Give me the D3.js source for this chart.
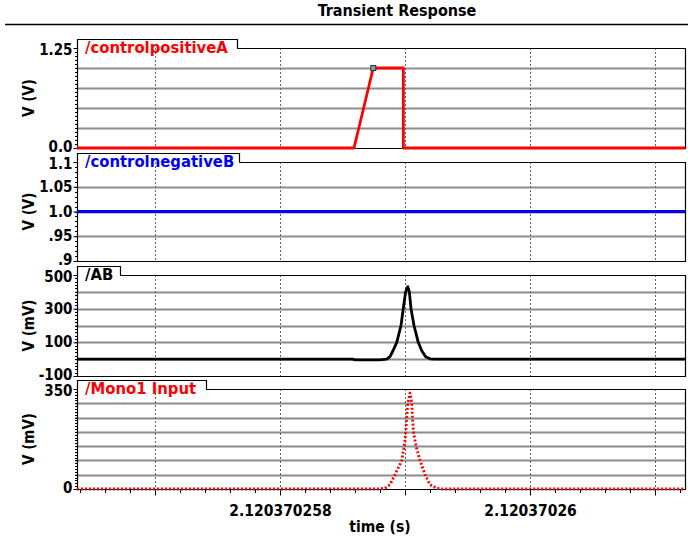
<!DOCTYPE html>
<html><head><meta charset="utf-8">
<script src="https://cdn.jsdelivr.net/npm/d3@7"></script>
<style>
body{margin:0;background:#fff;}
svg{display:block;font-family:"DejaVu Sans Condensed","DejaVu Sans",sans-serif;font-weight:bold;}
</style></head>
<body>
<svg id="chart" width="688" height="541"></svg>
<script>
// ---- data (time in ns offset from 2.120370250 s) ----
const xTickValues = [7, 8, 9, 10, 11];
const xTickLabels = ["", "2.120370258", "", "2.12037026", ""];
const xDomain = [6.376, 11.24];

const panelNames = ["/controlpositiveA", "/controlnegativeB", "/AB", "/Mono1 Input"];
const panelUnits = ["V (V)", "V (V)", "V (mV)", "V (mV)"];

const yDomainA = [0, 1.25];
const yTicksA = [0, 0.25, 0.5, 0.75, 1.0, 1.25];
const yLabelsA = ["0.0", "", "", "", "", "1.25"];
const timeA = [6.376, 8.592, 8.746, 8.987, 8.987, 11.24];
const valA  = [0, 0, 1.0, 1.0, 0, 0];
const markerA = [8.746, 1.0];

const yDomainB = [0.9, 1.1];
const yTicksB = [0.9, 0.95, 1.0, 1.05, 1.1];
const yLabelsB = [".9", ".95", "1.0", "1.05", "1.1"];
const timeB = [6.376, 11.24];
const valB  = [1.0, 1.0];

const yDomainAB = [-100, 500];
const yTicksAB = [-100, 0, 100, 200, 300, 400, 500];
const yLabelsAB = ["-100", "", "100", "", "300", "", "500"];
const timeAB = [6.376, 8.58, 8.6, 8.80, 8.854, 8.88, 8.904, 8.934, 8.968, 8.986, 9.005, 9.022, 9.035, 9.048, 9.072, 9.106, 9.134, 9.165, 9.2, 9.24, 11.24];
const valAB  = [0, 0, -4, -4, 0, 15, 50, 100, 200, 300, 400, 431, 400, 300, 200, 100, 50, 15, 2, 0, 0];

const yDomainM = [0, 350];
const yTicksM = [0, 50, 100, 150, 200, 250, 300, 350];
const yLabelsM = ["0", "", "", "", "", "", "", "350"];
const timeM = [6.376, 8.78, 8.84, 8.88, 8.92, 8.974, 8.994, 9.006, 9.014, 9.022, 9.04, 9.054, 9.06, 9.068, 9.088, 9.12, 9.16, 9.2, 9.254, 9.3, 11.24];
const valM  = [0, 0, 3, 15, 50, 100, 150, 200, 250, 300, 336, 300, 250, 200, 150, 100, 50, 15, 3, 0, 0];

// ---- layout ----
const svg = d3.select("#chart");
const left = 77, right = 685;
const FONT = "'DejaVu Sans Condensed','DejaVu Sans',sans-serif";
const x = d3.scaleLinear().domain(xDomain).range([left, right]);

const panels = [
  {name: panelNames[0], unit: panelUnits[0], dom: yDomainA, ticks: yTicksA, labels: yLabelsA, t: timeA, v: valA, color: "#ff0000", top: 48, bottom: 148, tabW: 160, dash: null},
  {name: panelNames[1], unit: panelUnits[1], dom: yDomainB, ticks: yTicksB, labels: yLabelsB, t: timeB, v: valB, color: "#0000ff", top: 162, bottom: 261, tabW: 162, dash: null},
  {name: panelNames[2], unit: panelUnits[2], dom: yDomainAB, ticks: yTicksAB, labels: yLabelsAB, t: timeAB, v: valAB, color: "#000000", top: 275, bottom: 376, tabW: 43, dash: null},
  {name: panelNames[3], unit: panelUnits[3], dom: yDomainM, ticks: yTicksM, labels: yLabelsM, t: timeM, v: valM, color: "#ff0000", top: 389, bottom: 489, tabW: 129, dash: "2,2"}
];

// title
svg.append("text").attr("x", 397).attr("y", 16).attr("text-anchor", "middle")
  .attr("font-size", 16).text("Transient Response");
svg.append("line").attr("x1", 5).attr("x2", 688).attr("y1", 24.5).attr("y2", 24.5)
  .attr("stroke", "#000").attr("stroke-width", 1.5);

panels.forEach((p, i) => {
  const y = d3.scaleLinear().domain(p.dom).range([p.bottom, p.top]);
  const g = svg.append("g");

  // horizontal grid
  g.selectAll(".hg").data(p.ticks.slice(1, -1)).join("line")
    .attr("x1", left).attr("x2", right)
    .attr("y1", d => Math.round(y(d)) + 0.5).attr("y2", d => Math.round(y(d)) + 0.5)
    .attr("stroke", "#8c8c8c").attr("stroke-width", 2);

  // vertical dashed grid
  g.selectAll(".vg").data(xTickValues).join("line")
    .attr("x1", d => Math.round(x(d)) + 0.5).attr("x2", d => Math.round(x(d)) + 0.5)
    .attr("y1", p.top).attr("y2", p.bottom)
    .attr("stroke", "#666").attr("stroke-width", 1).attr("stroke-dasharray", "2,2");

  // frame
  g.append("path")
    .attr("d", `M${left + 0.5},${p.top} V${p.bottom + 0.5} H${right + 0.5} V${p.top + 0.5} H${left + p.tabW}`)
    .attr("fill", "none").attr("stroke", "#000").attr("stroke-width", 1.2);

  // y axis ticks + labels
  const n = p.ticks.length;
  const yAxis = d3.axisLeft(y).tickValues(p.ticks).tickSize(4).tickPadding(1)
    .tickFormat((d, k) => p.labels[k]);
  const ga = g.append("g").attr("transform", `translate(${left + 0.5},0)`).call(yAxis);
  ga.select(".domain").remove();
  ga.selectAll(".tick line").attr("stroke", "#000");
  ga.selectAll(".tick line").filter((d, k) => p.labels[k] === "").attr("x2", -2);
  ga.selectAll(".tick text").attr("font-size", 15).attr("fill", "#000")
    .attr("font-family", FONT).attr("font-weight", "bold")
    .attr("dy", (d, k) => k === 0 ? "0.2em" : (k === n - 1 ? "0.42em" : "0.3em"));

  // minor y ticks
  const step = p.ticks[1] - p.ticks[0];
  const minor = d3.range(p.dom[0], p.dom[1] + step / 20, step / 5);
  g.selectAll(".mt").data(minor).join("line")
    .attr("x1", left - 2).attr("x2", left)
    .attr("y1", d => Math.round(y(d)) + 0.5).attr("y2", d => Math.round(y(d)) + 0.5)
    .attr("stroke", "#000").attr("stroke-width", 1);

  // y title
  g.append("text")
    .attr("transform", `translate(34,${(p.top + p.bottom) / 2}) rotate(-90)`)
    .attr("text-anchor", "middle").attr("font-size", 15).text(p.unit);

  // data line
  const pts = p.t.map((t, k) => [t, p.v[k]]);
  const line = d3.line().x(d => x(d[0])).y(d => y(d[1]));
  g.append("path").datum(pts).attr("d", line)
    .attr("fill", "none").attr("stroke", p.color).attr("stroke-width", 2.8)
    .attr("stroke-linejoin", "round")
    .attr("stroke-dasharray", p.dash);

  if (i === 0) {
    g.append("rect")
      .attr("x", x(markerA[0]) - 2.5).attr("y", y(markerA[1]) - 2.5)
      .attr("width", 5).attr("height", 5)
      .attr("fill", "#6aa").attr("stroke", "#333").attr("stroke-width", 1);
  }

  // tab
  g.append("path")
    .attr("d", `M${left + 0.5},${p.top} V${p.top - 8.5} H${left + p.tabW + 0.5} V${p.top + 0.5}`)
    .attr("fill", "#fff").attr("stroke", "#000").attr("stroke-width", 1.2);
  g.append("text").attr("x", left + 8).attr("y", p.top + 5)
    .attr("font-size", 16.5).attr("fill", p.color).text(p.name);
});

// x axis at bottom
const last = panels[3];
const xAxis = d3.axisBottom(x).tickValues(xTickValues).tickSize(6).tickPadding(9)
  .tickFormat((d, k) => xTickLabels[k]);
const gx = svg.append("g").attr("transform", `translate(0,${last.bottom + 0.5})`).call(xAxis);
gx.select(".domain").remove();
gx.selectAll(".tick text").attr("font-size", 15.5).attr("fill", "#000")
  .attr("font-family", FONT).attr("font-weight", "bold");
const xMinor = d3.range(6.4, 11.24, 0.2).filter(v => Math.abs(v - Math.round(v)) > 0.01);
svg.selectAll(".xm").data(xMinor).join("line")
  .attr("x1", d => Math.round(x(d)) + 0.5).attr("x2", d => Math.round(x(d)) + 0.5)
  .attr("y1", last.bottom).attr("y2", last.bottom + 4)
  .attr("stroke", "#000");
svg.append("text").attr("x", 380).attr("y", 532).attr("text-anchor", "middle")
  .attr("font-size", 15.5).text("time (s)");
</script>
</body></html>
